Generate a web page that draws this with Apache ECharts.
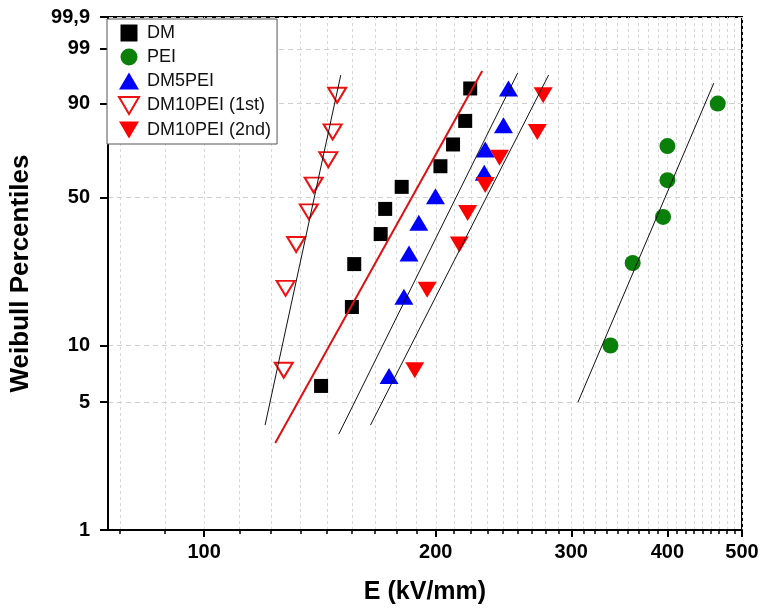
<!DOCTYPE html>
<html><head><meta charset="utf-8">
<script src="https://cdn.jsdelivr.net/npm/echarts@6/dist/echarts.min.js"></script>
<style>html,body{margin:0;padding:0;background:#fff}#c{width:762px;height:613px}</style>
</head><body><div id="c"></div>
<script>
// ---- data (E in kV/mm, F = cumulative failure probability in %) ----
const seriesNames = ['DM', 'PEI', 'DM5PEI', 'DM10PEI (1st)', 'DM10PEI (2nd)'];
const dmE   = [141.9, 155.6, 156.7, 169.6, 171.9, 180.6, 202.8, 210.6, 218.4, 221.7];
const dmF   = [6.1, 15.8, 25.7, 35.3, 45.1, 54.8, 64.4, 74.4, 84.1, 93.8];
const peiE  = [337.3, 360.5, 394.8, 400.0, 400.0, 465.0];
const peiF  = [10.0, 26.0, 41.8, 57.9, 73.7, 89.9];
const dm5E  = [173.9, 181.8, 184.6, 190.1, 199.8, 231.2, 231.9, 244.9, 248.6];
const dm5F  = [6.9, 17.8, 28.8, 39.5, 50.6, 61.4, 72.1, 82.5, 93.8];
const dm10aE = [126.9, 127.6, 131.7, 136.8, 138.8, 145.0, 146.9, 148.9];
const dm10aF = [7.4, 19.6, 31.7, 43.9, 55.6, 67.5, 79.8, 92.2];
const dm10bE = [187.8, 194.9, 214.6, 220.0, 231.9, 242.0, 271.0, 275.8];
const dm10bF = [7.4, 19.3, 31.7, 43.4, 55.6, 68.3, 79.8, 92.2];
// Weibull fit lines: [E start, E end], [F start, F end]
const fitDmE = [123.7, 229.8],   fitDmF = [3.0, 96.9];
const fitPeiE = [306.1, 459.5],  fitPeiF = [5.0, 94.9];
const fitDm5E = [149.6, 255.5],  fitDm5F = [3.35, 96.6];
const fitDm10aE = [120.0, 150.5], fitDm10aF = [3.75, 96.3];
const fitDm10bE = [164.5, 280.3], fitDm10bF = [3.75, 96.3];
// axes
const xMinE = 75, xMaxE = 500;
const xTickValues = [100, 200, 300, 400, 500];
const yTickPercents = [1, 5, 10, 50, 90, 99, 99.9];
const yTickLabels = ['1', '5', '10', '50', '90', '99', '99,9'];

// ---- transforms (log x, Weibull y) ----
const lx = e => Math.log10(e);
const wy = f => Math.log(-Math.log(1 - f / 100));
const pts = (E, F) => E.map((e, i) => [lx(e), wy(F[i])]);

const minorTicks = [];
for (let d = 0; d < 5; d++) {
  for (let k = 1; k <= 8; k++) {
    const v = 100 * d + k * 100 / 9;
    if (v > xMinE && v < xMaxE) minorTicks.push(lx(v));
  }
}
const majorX = xTickValues.map(lx);
const allX = majorX.concat(minorTicks);

const font = 'Arial, "Liberation Sans", sans-serif';
const square = 'path://M0,0 L10,0 L10,10 L0,10 Z';
const downTri = 'path://M0,0 L20,0 L10,17 Z';
const upTri = 'path://M10,0 L20,17 L0,17 Z';

const scatter = (name, E, F, symbol, size, style) => ({
  name, type: 'scatter', data: pts(E, F), symbol, symbolSize: size,
  itemStyle: Object.assign({ opacity: 1 }, style), z: 3, xAxisIndex: 0, yAxisIndex: 0
});
const fit = (E, F, color, width) => ({
  type: 'line', data: pts(E, F), showSymbol: false, symbol: 'none', silent: true,
  lineStyle: { color, width }, z: 5, xAxisIndex: 0, yAxisIndex: 0
});

const chart = echarts.init(document.getElementById('c'), null, { renderer: 'canvas' });
chart.setOption({
  animation: false,
  backgroundColor: '#fff',
  grid: { left: 103, right: 20, top: 17, bottom: 83, show: true, borderColor: '#000', borderWidth: 2, containLabel: false },
  legend: {
    data: seriesNames, orient: 'vertical', left: 107, top: 19,
    padding: [5, 6, 5, 11], itemGap: 6, itemWidth: 26, itemHeight: 17,
    backgroundColor: '#fff', borderColor: '#555', borderWidth: 1,
    textStyle: { fontSize: 18, fontFamily: font, color: '#111' }
  },
  xAxis: [{
    type: 'value', position: 'bottom', min: lx(xMinE), max: lx(xMaxE),
    axisLine: { show: true, onZero: false, lineStyle: { color: '#000', width: 2 } },
    axisTick: { show: true, customValues: majorX, length: 7, lineStyle: { color: '#000', width: 2 } },
    axisLabel: { customValues: majorX, margin: 12, fontSize: 20, fontWeight: 'bold', fontFamily: font, color: '#000',
      formatter: v => String(Math.round(Math.pow(10, v))) },
    splitLine: { show: false },
    name: 'E (kV/mm)', nameLocation: 'middle', nameGap: 50,
    nameTextStyle: { fontSize: 25, fontWeight: 'bold', fontFamily: font, color: '#000' }
  }, {
    type: 'value', position: 'bottom', min: lx(xMinE), max: lx(xMaxE),
    axisLine: { show: false, onZero: false },
    axisTick: { show: true, customValues: allX, length: 4, lineStyle: { color: '#000', width: 1.5 } },
    axisLabel: { show: false },
    splitLine: { show: true, lineStyle: { color: '#d9d9d9', type: [3, 3], width: 1 } }
  }],
  yAxis: {
    type: 'value', min: wy(yTickPercents[0]), max: wy(yTickPercents[yTickPercents.length - 1]),
    axisLine: { show: true, onZero: false, lineStyle: { color: '#000', width: 2 } },
    axisTick: { show: true, customValues: yTickPercents.map(wy), length: 8, lineStyle: { color: '#000', width: 2 } },
    axisLabel: { customValues: yTickPercents.map(wy), margin: 18, fontSize: 20, fontWeight: 'bold', fontFamily: font, color: '#000',
      formatter: v => {
        let best = 0, bd = 1e9;
        yTickPercents.forEach((p, i) => { const d = Math.abs(wy(p) - v); if (d < bd) { bd = d; best = i; } });
        return yTickLabels[best];
      } },
    splitLine: { show: true, lineStyle: { color: '#cfcfcf', type: [5, 4], width: 1 } },
    name: 'Weibull Percentiles', nameLocation: 'middle', nameGap: 74,
    nameTextStyle: { fontSize: 26, fontWeight: 'bold', fontFamily: font, color: '#000' }
  },
  series: [
    scatter(seriesNames[0], dmE, dmF, square, 14, { color: '#000' }),
    scatter(seriesNames[1], peiE, peiF, 'circle', 16, { color: '#0a7f0a' }),
    scatter(seriesNames[2], dm5E, dm5F, upTri, [19, 16], { color: '#0000ff' }),
    scatter(seriesNames[3], dm10aE, dm10aF, downTri, [18, 15], { color: '#fff', borderColor: '#ee1111', borderWidth: 2 }),
    scatter(seriesNames[4], dm10bE, dm10bF, downTri, [19, 16], { color: '#ff0000' }),
    fit(fitDmE, fitDmF, '#e01010', 2),
    fit(fitPeiE, fitPeiF, '#111', 1),
    fit(fitDm5E, fitDm5F, '#111', 1),
    fit(fitDm10aE, fitDm10aF, '#111', 1),
    fit(fitDm10bE, fitDm10bF, '#111', 1)
  ]
});
</script></body></html>
